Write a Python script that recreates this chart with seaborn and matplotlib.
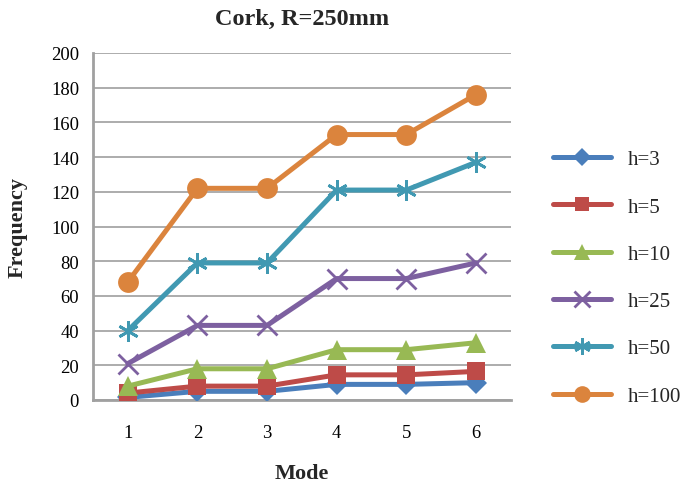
import matplotlib
matplotlib.use("Agg")
import matplotlib.pyplot as plt
import seaborn as sns
import pandas as pd

modes = [1, 2, 3, 4, 5, 6]
h3 = [1.5, 5, 5, 9, 9, 10]
h5 = [4, 8, 8, 14.5, 14.5, 16.5]
h10 = [8, 18, 18, 29, 29, 33]
h25 = [21, 43, 43, 70, 70, 79]
h50 = [40, 79, 79, 121, 121, 137]
h100 = [68, 122, 122, 153, 153, 176]
labels = ["h=3", "h=5", "h=10", "h=25", "h=50", "h=100"]
series = [h3, h5, h10, h25, h50, h100]

colors = ["#4A7EBB", "#BE4B48", "#98B954", "#7D60A0", "#4199B2", "#DB843D"]
markers = ["D", "s", "^", "x", (6, 2, 0), "o"]
msizes = [11, 13, 14, 15, 15, 15]

rows = []
for lab, vals in zip(labels, series):
    for m, v in zip(modes, vals):
        rows.append({"Mode": m, "Frequency": v, "series": lab})
df = pd.DataFrame(rows)

sns.set_style("white")
plt.rcParams["font.family"] = ["Liberation Serif", "DejaVu Serif"]

fig = plt.figure(figsize=(6.85, 4.85), dpi=100)
ax = fig.add_axes([93/685, 1 - 401/485, (510.7 - 93)/685, (401 - 54)/485])

handles = []
for lab, c, mk, ms in zip(labels, colors, markers, msizes):
    sub = df[df["series"] == lab]
    xs = sub["Mode"] - 0.5
    ln, = ax.plot(xs, sub["Frequency"], color=c, lw=3.6, marker=mk, ms=ms,
                  mew=2 if mk in ("x", (6, 2, 0)) else 0,
                  mec=c, mfc=c, solid_capstyle="round", label=lab, zorder=3)
    handles.append(ln)

ax.set_xlim(0, 6)
ax.set_ylim(0, 200)
ax.set_yticks(range(0, 201, 20))
ax.set_xticks([m - 0.5 for m in modes])
ax.set_xticklabels([str(m) for m in modes])
ax.yaxis.grid(True, color="#A6A6A6", lw=1.3)
ax.set_axisbelow(True)
for s in ["top", "right"]:
    ax.spines[s].set_visible(False)
for s in ["left", "bottom"]:
    ax.spines[s].set_color("#A0A0A0")
    ax.spines[s].set_linewidth(2)
ax.tick_params(axis="both", length=0, labelsize=13.4, colors="black")
ax.tick_params(axis="y", pad=10)
ax.tick_params(axis="x", pad=17)

ax.set_xlabel("Mode", fontsize=16, fontweight="bold", labelpad=16)
ax.set_ylabel("Frequency", fontsize=16, fontweight="bold", labelpad=17)
ax.set_title("Cork, R=250mm", fontsize=17.5, fontweight="bold", pad=21)

leg = fig.legend(handles=handles, labels=labels, loc="upper left",
                 bbox_to_anchor=(534/685, 1 - 132/485), frameon=False,
                 fontsize=15, labelspacing=1.33, handlelength=2.8,
                 handletextpad=0.8, markerscale=0.8)

fig.savefig("out.png", dpi=100)
